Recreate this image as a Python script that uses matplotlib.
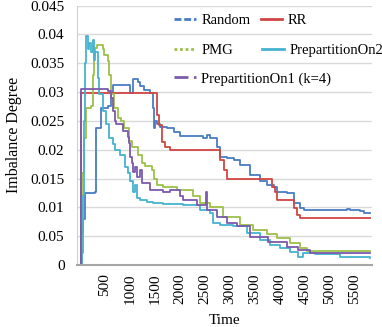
import matplotlib
matplotlib.use('Agg')
import matplotlib.pyplot as plt
from matplotlib.lines import Line2D

plt.rcParams['font.family'] = ['Liberation Serif', 'DejaVu Serif']

# values (time, imbalance degree), drawn as steps
random_t = [0, 20, 50, 90, 290, 320, 420, 560, 620, 660, 1000, 1067, 1150, 1200, 1270, 1400, 1450, 1480,
            1500, 1530, 1600, 1730, 1870, 2000, 2460, 2530, 2600, 2730, 2800, 2930, 3070, 3200, 3400,
            3600, 3730, 3870, 3930, 4130, 4270, 4400, 4470, 5330, 5400, 5600, 5670, 5800]
random_v = [0, 0.0055, 0.0080, 0.0125, 0.0127, 0.0238, 0.0273, 0.0275, 0.0298, 0.0313, 0.0298, 0.0322,
            0.0318, 0.0310, 0.0304, 0.0298, 0.0272, 0.0237, 0.0250, 0.0245, 0.0240, 0.0237, 0.0231,
            0.0223, 0.0220, 0.0225, 0.0220, 0.0205, 0.0188, 0.0185, 0.0182, 0.0174, 0.0156, 0.0145,
            0.0139, 0.0136, 0.0127, 0.0125, 0.0107, 0.0098, 0.0095, 0.0097, 0.0095, 0.0093, 0.0090, 0.0090]

rr_t = [0, 15, 1500, 1530, 1570, 1630, 1700, 1800, 2770, 2800, 2870, 2930, 3800, 3830, 3900, 3930,
        4230, 4270, 4330, 4400, 5800]
rr_v = [0, 0.0298, 0.0298, 0.0260, 0.0243, 0.0214, 0.0205, 0.0200, 0.0200, 0.0182, 0.0165, 0.0150,
        0.0150, 0.0136, 0.0127, 0.0113, 0.0113, 0.0098, 0.0087, 0.0081, 0.0081]

pmg_t = [0, 40, 87, 110, 220, 250, 280, 300, 330, 353, 450, 487, 553, 587, 620, 687, 753, 820, 887,
         987, 1033, 1167, 1233, 1300, 1433, 1480, 1533, 1667, 1933, 2267, 2400, 2600, 2867, 3200,
         3467, 3733, 3933, 4200, 4400, 4533, 5800]
pmg_v = [0, 0.0160, 0.0220, 0.0273, 0.0275, 0.0330, 0.0365, 0.0377, 0.0382, 0.0382, 0.0375, 0.0365,
         0.0354, 0.0330, 0.0296, 0.0273, 0.0255, 0.0250, 0.0238, 0.0215, 0.0205, 0.0190, 0.0177,
         0.0172, 0.0165, 0.0150, 0.0138, 0.0136, 0.0130, 0.0119, 0.0107, 0.0101, 0.0084, 0.0069,
         0.0061, 0.0053, 0.0046, 0.0038, 0.0029, 0.0025, 0.0025]

pre2_t = [0, 40, 53, 70, 90, 120, 150, 180, 220, 253, 280, 300, 353, 387, 453, 520, 587, 650, 700,
          800, 900, 967, 1000, 1067, 1100, 1133, 1200, 1267, 1333, 1467, 1667, 2067, 2400, 2600,
          2667, 2800, 3067, 3333, 3600, 3800, 4000, 4200, 4367, 4467, 4700, 5200, 5800]
pre2_v = [0, 0.0020, 0.0120, 0.0250, 0.0350, 0.0397, 0.0375, 0.0385, 0.0370, 0.0390, 0.0355, 0.0370,
          0.0325, 0.0296, 0.0267, 0.0244, 0.0220, 0.0210, 0.0200, 0.0190, 0.0170, 0.0160, 0.0145,
          0.0127, 0.0139, 0.0116, 0.0113, 0.0113, 0.0110, 0.0107, 0.0105, 0.0104, 0.0095, 0.0090,
          0.0072, 0.0070, 0.0067, 0.0055, 0.0043, 0.0035, 0.0030, 0.0023, 0.0014, 0.0020, 0.0019,
          0.0014, 0.0013]

pre1_t = [0, 20, 500, 560, 620, 660, 690, 720, 850, 950, 970, 1000, 1033, 1067, 1100, 1133, 1200,
          1233, 1400, 1667, 1800, 2000, 2067, 2333, 2500, 2520, 2540, 2733, 2933, 3133, 3400, 3767,
          4133, 4367, 4600, 5800]
pre1_v = [0, 0.0306, 0.0306, 0.0302, 0.0290, 0.0267, 0.0250, 0.0244, 0.0232, 0.0222, 0.0211, 0.0188,
          0.0177, 0.0162, 0.0170, 0.0153, 0.0165, 0.0142, 0.0130, 0.0127, 0.0130, 0.0119, 0.0113,
          0.0104, 0.0104, 0.0127, 0.0095, 0.0084, 0.0072, 0.0067, 0.0049, 0.0040, 0.0032, 0.0026,
          0.0020, 0.0020]

y_ticks = [0, 0.005, 0.01, 0.015, 0.02, 0.025, 0.03, 0.035, 0.04, 0.045]
y_labels = ['0', '0.05', '0.01', '0.015', '0.02', '0.025', '0.03', '0.035', '0.04', '0.045']
x_ticks = [500, 1000, 1500, 2000, 2500, 3000, 3500, 4000, 4500, 5000, 5500]

c_random = '#4a7cc4'
c_rr = '#d04542'
c_pmg = '#9cc04a'
c_pre2 = '#45b3d0'
c_pre1 = '#7c5aac'

fig = plt.figure(figsize=(3.82, 3.27), dpi=100)
ax = fig.add_axes([77 / 382, 1 - 265 / 327, 295 / 382, 259.5 / 327])

lw = 1.3
ax.plot(random_t, random_v, drawstyle='steps-post', color=c_random, lw=lw)
ax.plot(rr_t, rr_v, drawstyle='steps-post', color=c_rr, lw=lw)
ax.plot(pmg_t, pmg_v, drawstyle='steps-post', color=c_pmg, lw=lw)
ax.plot(pre2_t, pre2_v, drawstyle='steps-post', color=c_pre2, lw=lw)
ax.plot(pre1_t, pre1_v, drawstyle='steps-post', color=c_pre1, lw=lw)

ax.set_xlim(-60, 5840)
ax.set_ylim(0, 0.045)
ax.set_yticks(y_ticks)
ax.set_yticklabels(y_labels)
ax.set_xticks(x_ticks)
ax.set_xticklabels([str(t) for t in x_ticks], rotation=90)
ax.tick_params(axis='both', length=0, labelsize=11)
ax.tick_params(axis='y', pad=9)
ax.tick_params(axis='x', pad=6)
ax.grid(axis='y', color='#d9d9d9', lw=1)
ax.set_axisbelow(True)
for s in ['top', 'right']:
    ax.spines[s].set_visible(False)
ax.spines['left'].set_color('#d0d0d0')
ax.spines['bottom'].set_color('#a6a6a6')
ax.spines['bottom'].set_linewidth(1.5)

ax.set_ylabel('Imbalance Degree', fontsize=11.5, labelpad=6)
ax.set_xlabel('Time', fontsize=11, labelpad=7)

# legend rows, Excel style
h_random = Line2D([], [], color=c_random, lw=2, ls=(0, (2.5, 1)))
h_rr = Line2D([], [], color=c_rr, lw=2)
h_pmg = Line2D([], [], color=c_pmg, lw=2, ls=(0, (1, 1)))
h_pre2 = Line2D([], [], color=c_pre2, lw=2)
h_pre1 = Line2D([], [], color=c_pre1, lw=2, ls=(0, (5, 2, 1, 2)))

kw = dict(frameon=False, fontsize=10.5, handlelength=1.5, handletextpad=0.35,
          borderpad=0, loc='center left', bbox_transform=fig.transFigure)
leg1 = fig.legend([h_random, h_rr], ['Random', 'RR'], ncol=2, columnspacing=0.7,
                  bbox_to_anchor=(167 / 382, 1 - 20 / 327), **kw)
leg2 = fig.legend([h_pmg, h_pre2], ['PMG', 'PrepartitionOn2'], ncol=2, columnspacing=2.0,
                  bbox_to_anchor=(167 / 382, 1 - 50 / 327), **kw)
leg3 = fig.legend([h_pre1], ['PrepartitionOn1 (k=4)'],
                  bbox_to_anchor=(167 / 382, 1 - 79 / 327), **kw)

fig.savefig('out.png', dpi=100)
